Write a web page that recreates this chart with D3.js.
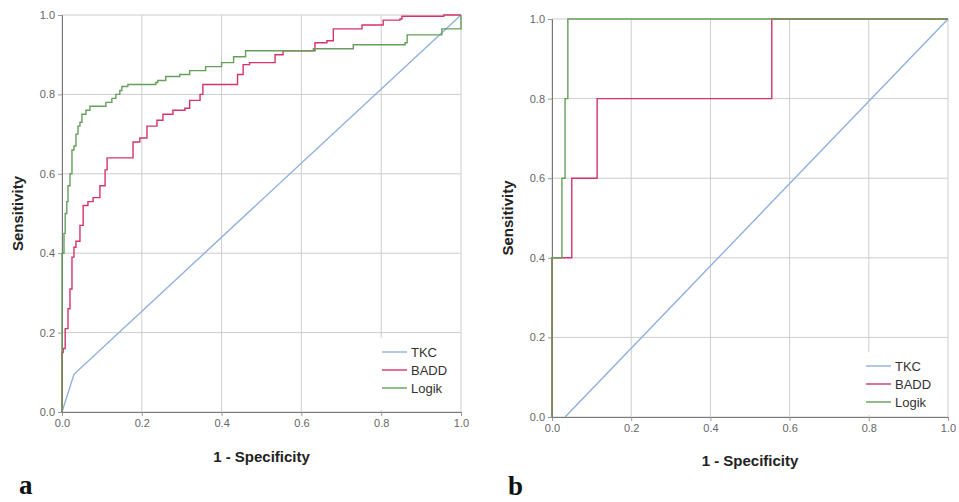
<!DOCTYPE html>
<html>
<head>
<meta charset="utf-8">
<script src="https://cdn.jsdelivr.net/npm/d3@7"></script>
<style>
  body { margin: 0; background: #fff; }
  text { font-family: "Liberation Sans", Arial, sans-serif; }
</style>
</head>
<body>
<div id="chart"></div>
<script>
// tick values shared by both axes of both panels
const tickValues = [0, 0.2, 0.4, 0.6, 0.8, 1.0];
const seriesNames = ["TKC", "BADD", "Logik"];

// panel a: ROC points [1 - specificity, sensitivity]
const tkcA = [[0, 0], [0.03, 0.095], [1, 1]];
const baddA = [[0, 0], [0, 0.15], [0.003, 0.16], [0.008, 0.21], [0.015, 0.26], [0.02, 0.31],
  [0.025, 0.39], [0.03, 0.415], [0.035, 0.43], [0.045, 0.47], [0.053, 0.52], [0.065, 0.53],
  [0.078, 0.54], [0.095, 0.57], [0.108, 0.61], [0.113, 0.64], [0.165, 0.64], [0.178, 0.68],
  [0.195, 0.69], [0.213, 0.72], [0.238, 0.735], [0.253, 0.75], [0.278, 0.76], [0.308, 0.765],
  [0.32, 0.785], [0.346, 0.80], [0.353, 0.825], [0.43, 0.825], [0.44, 0.85], [0.454, 0.875],
  [0.47, 0.88], [0.526, 0.88], [0.534, 0.90], [0.554, 0.91], [0.62, 0.91], [0.634, 0.93],
  [0.664, 0.935], [0.68, 0.965], [0.747, 0.965], [0.752, 0.975], [0.797, 0.975], [0.805, 0.987],
  [0.847, 0.99], [0.852, 0.997], [0.955, 0.997], [0.957, 1.0], [1, 1]];
const logikA = [[0, 0], [0, 0.40], [0.005, 0.45], [0.008, 0.50], [0.012, 0.53], [0.015, 0.57],
  [0.02, 0.60], [0.025, 0.66], [0.03, 0.67], [0.035, 0.70], [0.04, 0.72], [0.045, 0.73],
  [0.05, 0.75], [0.06, 0.76], [0.07, 0.77], [0.10, 0.77], [0.11, 0.78], [0.125, 0.79],
  [0.135, 0.80], [0.145, 0.81], [0.15, 0.82], [0.165, 0.825], [0.20, 0.825], [0.235, 0.83],
  [0.24, 0.835], [0.26, 0.845], [0.295, 0.85], [0.32, 0.86], [0.36, 0.87], [0.40, 0.88],
  [0.43, 0.895], [0.46, 0.91], [0.62, 0.91], [0.63, 0.915], [0.73, 0.925], [0.86, 0.93],
  [0.865, 0.95], [0.94, 0.95], [0.952, 0.965], [0.99, 0.965], [1, 1]];

// panel b
const tkcB = [[0.033, 0], [1, 1]];
const baddB = [[0, 0], [0, 0.4], [0.05, 0.6], [0.114, 0.8], [0.555, 1.0], [1, 1]];
const logikB = [[0, 0], [0, 0.4], [0.025, 0.6], [0.033, 0.8], [0.04, 1.0], [1, 1]];

const colors = { TKC: "#8fb0de", BADD: "#d6336a", Logik: "#64a05a" };

const svg = d3.select("#chart").append("svg")
  .attr("width", 959)
  .attr("height", 502);

function drawPanel(p) {
  const x = d3.scaleLinear().domain([0, 1]).range([p.left, p.right]);
  const y = d3.scaleLinear().domain([0, 1]).range([p.bottom, p.top]);
  const g = svg.append("g");

  // Gridlines
  g.selectAll(".vgrid").data(tickValues).join("line")
    .attr("x1", d => x(d)).attr("x2", d => x(d))
    .attr("y1", y(0)).attr("y2", y(1))
    .attr("stroke", "#cdcdcd").attr("stroke-width", 1);
  g.selectAll(".hgrid").data(tickValues).join("line")
    .attr("x1", x(0)).attr("x2", x(1))
    .attr("y1", d => y(d)).attr("y2", d => y(d))
    .attr("stroke", "#cdcdcd").attr("stroke-width", 1);

  // Legend box hides the grid behind it
  g.append("rect")
    .attr("x", p.legend.x - 7).attr("y", p.legend.y - 14)
    .attr("width", x(1) - p.legend.x + 6).attr("height", y(0) - p.legend.y + 12)
    .attr("fill", "#fff");

  // Axes
  const fmt = d3.format(".1f");
  const xAxis = g.append("g")
    .attr("transform", `translate(0,${y(0)})`)
    .call(d3.axisBottom(x).tickValues(tickValues).tickFormat(fmt).tickSize(4).tickPadding(3));
  const yAxis = g.append("g")
    .attr("transform", `translate(${x(0)},0)`)
    .call(d3.axisLeft(y).tickValues(tickValues).tickFormat(fmt).tickSize(4).tickPadding(3));
  [xAxis, yAxis].forEach(a => {
    a.select(".domain").attr("stroke", "#777");
    a.selectAll(".tick line").attr("stroke", "#999");
    a.selectAll(".tick text").attr("fill", "#666").style("font-size", "11px")
      .style("font-family", "'Liberation Sans', Arial, sans-serif");
  });

  // ROC curves
  p.series.forEach((pts, i) => {
    const name = seriesNames[i];
    const line = d3.line()
      .x(d => x(d[0])).y(d => y(d[1]))
      .curve(name === "TKC" ? d3.curveLinear : d3.curveStepAfter);
    g.append("path")
      .datum(pts)
      .attr("d", line)
      .attr("fill", "none")
      .attr("stroke", colors[name])
      .attr("stroke-width", 1.4);
  });

  // Legend
  const leg = g.append("g").attr("transform", `translate(${p.legend.x},${p.legend.y})`);
  seriesNames.forEach((name, i) => {
    leg.append("line")
      .attr("x1", 0).attr("x2", 25)
      .attr("y1", i * 18).attr("y2", i * 18)
      .attr("stroke", colors[name]).attr("stroke-width", 1.4);
    leg.append("text")
      .attr("x", 29).attr("y", i * 18)
      .attr("dy", "0.35em")
      .attr("fill", "#333")
      .style("font-size", "13px")
      .text(name);
  });

  // Axis titles
  g.append("text")
    .attr("x", (x(0) + x(1)) / 2)
    .attr("y", p.xTitleY)
    .attr("text-anchor", "middle")
    .attr("font-weight", "bold")
    .attr("fill", "#222")
    .style("font-size", "15px")
    .text("1 - Specificity");
  g.append("text")
    .attr("transform", `translate(${p.yTitleX},${(y(0) + y(1)) / 2}) rotate(-90)`)
    .attr("text-anchor", "middle")
    .attr("font-weight", "bold")
    .attr("fill", "#222")
    .style("font-size", "15px")
    .text("Sensitivity");

  // Panel letter
  g.append("text")
    .attr("x", p.letter.x).attr("y", p.letter.y)
    .attr("font-weight", "bold")
    .attr("fill", "#111")
    .style("font-family", "'Liberation Serif', 'Times New Roman', serif")
    .style("font-size", "27px")
    .text(p.letter.text);
}

drawPanel({
  left: 62, right: 461, top: 15, bottom: 412,
  series: [tkcA, baddA, logikA],
  legend: { x: 382, y: 352 },
  xTitleY: 462, yTitleX: 23,
  letter: { x: 19, y: 494, text: "a" }
});

drawPanel({
  left: 552, right: 948, top: 19, bottom: 417,
  series: [tkcB, baddB, logikB],
  legend: { x: 866, y: 366 },
  xTitleY: 466, yTitleX: 513,
  letter: { x: 508, y: 495, text: "b" }
});
</script>
</body>
</html>
